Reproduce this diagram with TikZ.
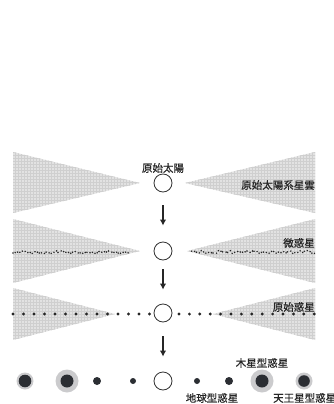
\documentclass[tikz,border=0pt]{standalone}
\usepackage{fontspec}
\newfontfamily\jp[FakeBold=0.6]{Noto Sans CJK JP}
\usetikzlibrary{arrows.meta,patterns}
\definecolor{disk}{HTML}{E2E2E2}
\definecolor{diskgrid}{HTML}{CFCFCF}
\definecolor{core}{HTML}{2B2E33}
\definecolor{halo}{HTML}{CBCBCD}
\tikzset{
  label/.style={font=\jp\fontsize{10.5}{12}\selectfont, inner sep=0pt, text=black!85},
  sun/.style={circle, draw=black!80, line width=0.8pt, fill=white, minimum size=18pt, inner sep=0pt},
  wedge/.style={fill=disk, draw=none},
  wedgetex/.style={pattern=grid, pattern color=diskgrid},
  flow/.style={line width=1.6pt, draw=black!85, -{Latex[length=6pt,width=6.5pt]}},
  bigdot/.style={fill=black!85},
  speck/.style={fill=black!85},
  planet/.style={fill=core},
  haloring/.style={fill=halo}
}
\begin{document}
\begin{tikzpicture}[x=1pt,y=-1pt]
\useasboundingbox (0,0) rectangle (334,404);

% --- stage 1: primordial nebula ---
\foreach \p in {wedge,wedgetex}{
  \path[\p] (13,152) -- (140,183) -- (13,213) -- cycle;
  \path[\p] (315,152) -- (185,183) -- (315,213) -- cycle;
}
\node[sun] (s1) at (163,183) {};
\node[label] (l1) at (163,168) {原始太陽};
\node[label, anchor=east] (l2) at (315,185) {原始太陽系星雲};

% --- stage 2: planetesimals ---
\foreach \p in {wedge,wedgetex}{
  \path[\p] (13,219) -- (140,251) -- (13,283) -- cycle;
  \path[\p] (315,219) -- (187,251) -- (315,283) -- cycle;
}
\pgfmathsetseed{11}
\foreach \x in {13,15.4,...,130}{
  \pgfmathsetmacro\dy{rand*1.4}
  \pgfmathsetmacro\dx{rand*0.6}
  \fill[speck] ({\x+\dx},{252+\dy}) circle (0.85);
}
\foreach \x in {192,194.4,...,315}{
  \pgfmathsetmacro\dy{rand*1.4}
  \pgfmathsetmacro\dx{rand*0.6}
  \fill[speck] ({\x+\dx},{252+\dy}) circle (0.85);
}
\node[sun] (s2) at (163,251) {};
\node[label, anchor=east] (l3) at (315,243) {微惑星};

% --- stage 3: protoplanets ---
\foreach \p in {wedge,wedgetex}{
  \path[\p] (13,288) -- (115,314) -- (13,340) -- cycle;
  \path[\p] (315,288) -- (213,314) -- (315,340) -- cycle;
}
\foreach \i in {0,...,13}{
  \fill[bigdot] ({13+\i*10.5},314) circle (1.6);
  \fill[bigdot] ({179+\i*10.4},314) circle (1.6);
}
\node[sun] (s3) at (163,313) {};
\node[label, anchor=east] (l4) at (315,307) {原始惑星};

% --- stage 4: planets ---
\node[sun] (s4) at (163,381) {};
\fill[haloring] (25,381) circle (8.5);
\fill[planet] (25,381) circle (6.3);
\fill[haloring] (67,381) circle (11.5);
\fill[planet] (67,381) circle (6.5);
\fill[planet] (97,381) circle (4);
\fill[planet] (133,381) circle (3);
\fill[planet] (197,381) circle (3);
\fill[planet] (229,381) circle (4);
\fill[haloring] (262,381) circle (11.5);
\fill[planet] (262,381) circle (6.5);
\fill[haloring] (304,381) circle (8.5);
\fill[planet] (304,381) circle (5.8);
\node[label] (l5) at (262,363) {木星型惑星};
\node[label] (l6) at (212,398) {地球型惑星};
\node[label, anchor=west] (l7) at (273,398) {天王星型惑星};

% --- arrows between stages ---
\draw[flow, shorten <=13pt, shorten >=16pt] (s1.south) -- (s2.north);
\draw[flow, shorten <=9pt, shorten >=14pt] (s2.south) -- (s3.north);
\draw[flow, shorten <=14pt, shorten >=15pt] (s3.south) -- (s4.north);
\end{tikzpicture}
\end{document}
